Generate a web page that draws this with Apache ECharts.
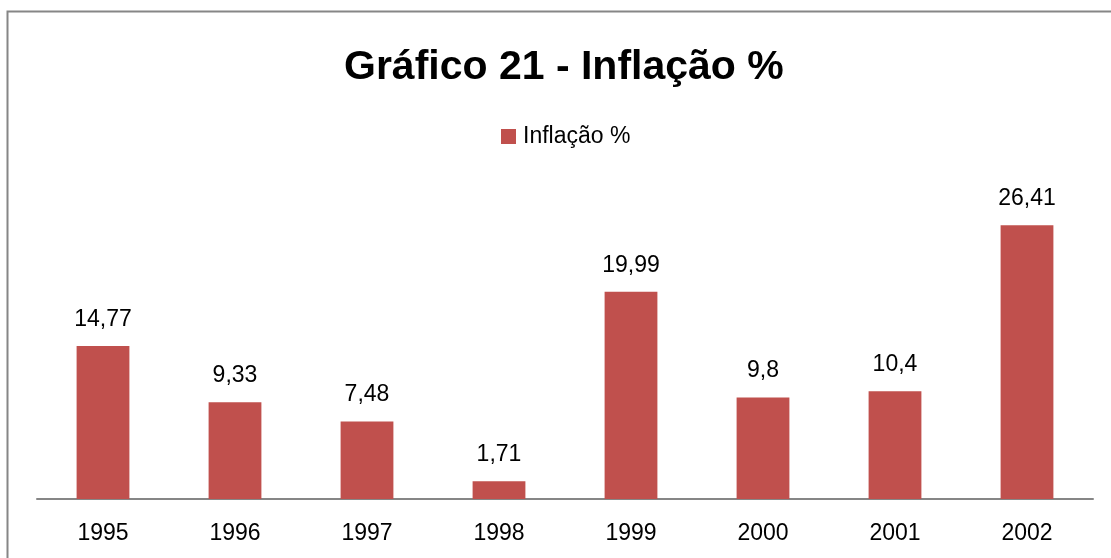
<!DOCTYPE html>
<html>
<head>
<meta charset="utf-8">
<script src="https://cdn.jsdelivr.net/npm/echarts@6/dist/echarts.min.js"></script>
<style>
  html, body { margin: 0; padding: 0; background: #fff; }
  #main { width: 1111px; height: 558px; }
</style>
</head>
<body>
<div id="main"></div>
<script>
// dados
var anos = ['1995', '1996', '1997', '1998', '1999', '2000', '2001', '2002'];
var inflacao = [14.77, 9.33, 7.48, 1.71, 19.99, 9.8, 10.4, 26.41];
var serieNome = 'Inflação %';
var titulo = 'Gráfico 21 - Inflação %';

var fonte = '"Liberation Sans", Arial, sans-serif';
var myChart = echarts.init(document.getElementById('main'));
var option = {
    backgroundColor: '#fff',
    animation: false,
    title: {
        text: titulo,
        left: 339,
        top: 42,
        textStyle: { fontFamily: fonte, fontSize: 41, fontWeight: 'bold', color: '#000' }
    },
    legend: {
        data: [serieNome],
        left: 496,
        top: 120,
        icon: 'rect',
        itemWidth: 15,
        itemHeight: 15,
        textStyle: { fontFamily: fonte, fontSize: 23, color: '#000', padding: [0, 0, 0, 2] }
    },
    grid: { left: 37, right: 18, top: 188, bottom: 59 },
    xAxis: {
        type: 'category',
        data: anos,
        axisLine: { lineStyle: { color: '#868686', width: 2 } },
        axisTick: { show: false },
        axisLabel: { margin: 23, fontFamily: fonte, fontSize: 23, color: '#000' }
    },
    yAxis: {
        type: 'value',
        min: 0,
        max: 30,
        show: false,
        splitLine: { show: false }
    },
    series: [{
        name: serieNome,
        type: 'bar',
        data: inflacao,
        barWidth: '40%',
        itemStyle: { color: '#C0504D' },
        label: {
            show: true,
            position: 'top',
            distance: 15,
            fontFamily: fonte,
            fontSize: 23,
            color: '#000',
            formatter: function (p) { return String(p.value).replace('.', ','); }
        }
    }],
    graphic: [{
        type: 'rect',
        silent: true,
        shape: { x: 7.5, y: 11.5, width: 1130, height: 570 },
        style: { fill: 'none', stroke: '#868686', lineWidth: 2 }
    }]
};
myChart.setOption(option);
</script>
</body>
</html>
